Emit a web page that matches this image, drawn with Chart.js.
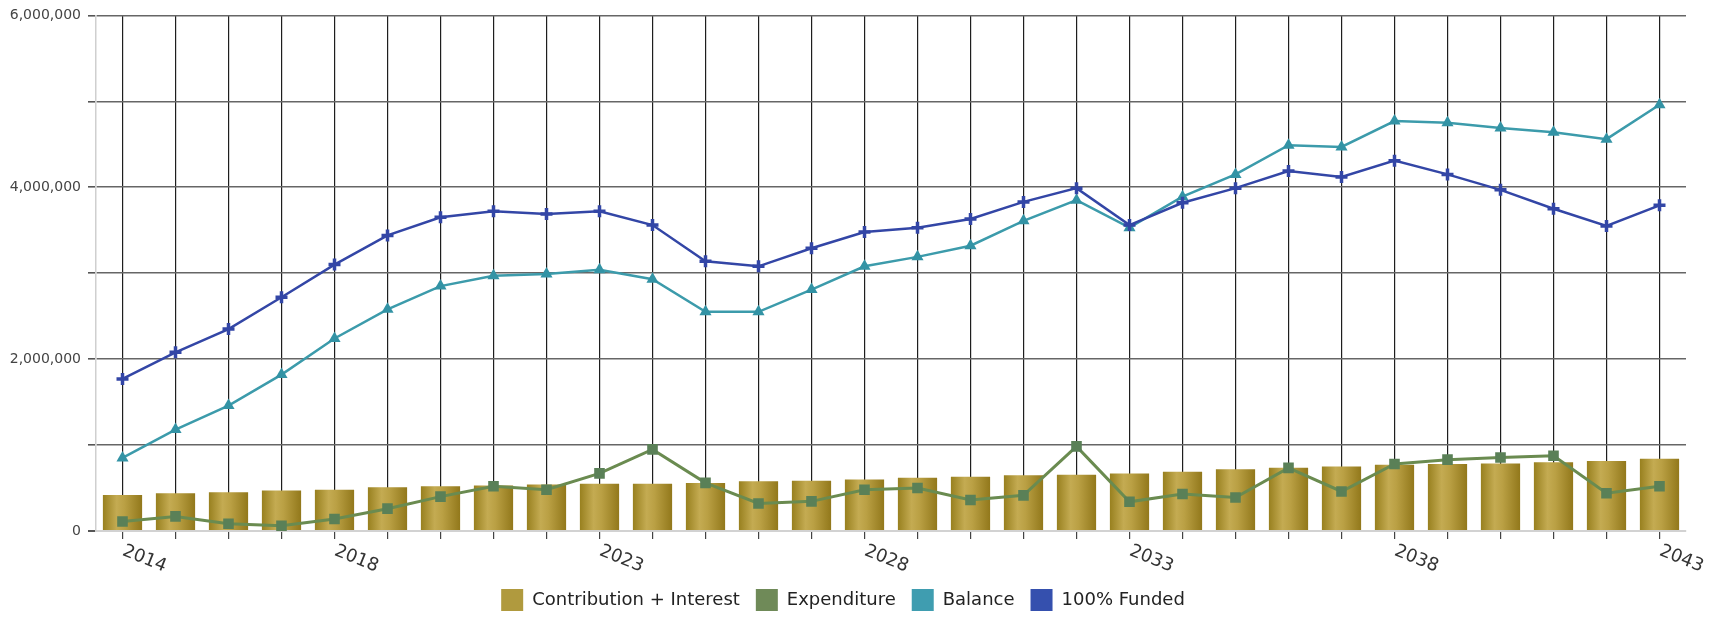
<!DOCTYPE html>
<html>
<head>
<meta charset="utf-8">
<title>Reserve Fund Projection</title>
<script src="https://cdn.jsdelivr.net/npm/chart.js@4"></script>
<style>
  html, body { margin: 0; padding: 0; background: #ffffff; }
  #wrap { width: 1715px; height: 644px; position: relative; }
</style>
</head>
<body>
<div id="wrap"><canvas id="reserveChart"></canvas></div>
<script>
// categories
const years = [2014, 2015, 2016, 2017, 2018, 2019, 2020, 2021, 2022, 2023,
               2024, 2025, 2026, 2027, 2028, 2029, 2030, 2031, 2032, 2033,
               2034, 2035, 2036, 2037, 2038, 2039, 2040, 2041, 2042, 2043];

// series values
const contribution = [420000, 440000, 450000, 470000, 480000, 510000, 520000, 530000, 540000, 550000,
                      550000, 560000, 580000, 585000, 600000, 620000, 630000, 650000, 655000, 670000,
                      690000, 720000, 735000, 750000, 770000, 780000, 785000, 800000, 815000, 840000];
const expenditure = [110000, 170000, 85000, 60000, 140000, 260000, 400000, 520000, 480000, 670000,
                     950000, 560000, 320000, 345000, 480000, 500000, 360000, 415000, 985000, 340000,
                     430000, 390000, 735000, 460000, 780000, 830000, 855000, 875000, 440000, 520000];
const balance = [850000, 1180000, 1460000, 1820000, 2240000, 2580000, 2850000, 2970000, 2990000, 3040000,
                 2930000, 2550000, 2550000, 2810000, 3080000, 3190000, 3320000, 3610000, 3850000, 3530000,
                 3890000, 4150000, 4490000, 4470000, 4770000, 4750000, 4690000, 4640000, 4560000, 4960000];
const funded = [1770000, 2080000, 2350000, 2720000, 3100000, 3440000, 3650000, 3720000, 3690000, 3720000,
                3560000, 3140000, 3080000, 3290000, 3480000, 3530000, 3630000, 3830000, 3990000, 3560000,
                3820000, 3990000, 4190000, 4120000, 4310000, 4150000, 3970000, 3750000, 3550000, 3790000];

// tick labels
const xTickYears = [2014, 2018, 2023, 2028, 2033, 2038, 2043];
const yTickLabels = [0, 2000000, 4000000, 6000000];

const BAR_PCT = 0.74;
const legendColors = ['#b09a3e', '#6f8a58', '#3f9db0', '#3550ae'];

// golden bars, darker at the edges
function barFill(c) {
  const xs = c.chart.scales && c.chart.scales.x;
  if (c.type !== 'data' || !xs) return legendColors[0];
  const cx = xs.getPixelForValue(c.dataIndex);
  const half = xs.width / years.length * BAR_PCT / 2;
  if (!isFinite(cx) || !isFinite(half) || half <= 0) return legendColors[0];
  const g = c.chart.ctx.createLinearGradient(cx - half, 0, cx + half, 0);
  g.addColorStop(0, '#98801f');
  g.addColorStop(0.35, '#c4ab52');
  g.addColorStop(0.55, '#baa044');
  g.addColorStop(1, '#92781b');
  return g;
}

// rotated year labels below the axis
const yearLabels = {
  id: 'yearLabels',
  afterDraw(chart) {
    const xs = chart.scales.x;
    const ctx = chart.ctx;
    ctx.save();
    ctx.font = '18px "DejaVu Sans"';
    ctx.fillStyle = '#333333';
    ctx.textAlign = 'left';
    ctx.textBaseline = 'top';
    years.forEach((yr, i) => {
      if (!xTickYears.includes(yr)) return;
      const x = xs.getPixelForValue(i);
      ctx.save();
      ctx.translate(x + 4, xs.top + 11);
      ctx.rotate(22 * Math.PI / 180);
      ctx.fillText(String(yr), 0, 0);
      ctx.restore();
    });
    ctx.restore();
  }
};

const ctx = document.getElementById('reserveChart').getContext('2d');
const reserveChart = new Chart(ctx, {
  type: 'bar',
  data: {
    labels: years.map(String),
    datasets: [
      {
        label: 'Contribution + Interest',
        data: contribution,
        backgroundColor: barFill,
        barPercentage: BAR_PCT,
        categoryPercentage: 1,
        order: 4
      },
      {
        type: 'line',
        label: 'Expenditure',
        data: expenditure,
        borderColor: '#6a8b50',
        backgroundColor: '#5a8057',
        borderWidth: 3,
        pointStyle: 'rect',
        pointRadius: 7.5,
        pointBorderWidth: 0,
        tension: 0,
        order: 3
      },
      {
        type: 'line',
        label: 'Balance',
        data: balance,
        borderColor: '#3c9bab',
        backgroundColor: '#3393a5',
        borderWidth: 2.5,
        pointStyle: 'triangle',
        pointRadius: 7,
        pointBorderWidth: 0,
        tension: 0,
        order: 2
      },
      {
        type: 'line',
        label: '100% Funded',
        data: funded,
        borderColor: '#3346a6',
        backgroundColor: '#2f45a8',
        borderWidth: 2.5,
        pointStyle: 'cross',
        pointRadius: 6,
        pointBorderWidth: 3.5,
        tension: 0,
        order: 1
      }
    ]
  },
  options: {
    responsive: true,
    maintainAspectRatio: false,
    animation: false,
    layout: { padding: { top: 15, right: 29, bottom: 23, left: 0 } },
    scales: {
      x: {
        offset: true,
        grid: {
          offset: false,
          color: '#1e1e1e',
          lineWidth: 1.2,
          drawTicks: true,
          tickLength: 8,
          tickColor: '#444444'
        },
        border: { display: true, color: '#d2d2d2', width: 2 },
        ticks: { display: false },
        afterFit: (s) => { s.height = 42; }
      },
      y: {
        min: 0,
        max: 6000000,
        grid: {
          color: (c) => (c.tick && c.tick.value === 0 ? '#d2d2d2' : '#666666'),
          lineWidth: (c) => (c.tick && c.tick.value === 0 ? 2 : 1.6),
          tickLength: 8,
          tickColor: '#555555'
        },
        border: { display: true, color: '#cfcfcf', width: 1.5 },
        ticks: {
          stepSize: 1000000,
          padding: 7,
          color: '#444444',
          font: { family: 'DejaVu Sans', size: 14 },
          callback: (v) => (yTickLabels.includes(v) ? v.toLocaleString('en-US') : '')
        },
        afterFit: (s) => { s.width = 96; }
      }
    },
    plugins: {
      tooltip: { enabled: false },
      legend: {
        position: 'bottom',
        labels: {
          boxWidth: 22,
          boxHeight: 22,
          padding: 16,
          color: '#222222',
          font: { family: 'DejaVu Sans', size: 18 },
          sort: (a, b) => a.datasetIndex - b.datasetIndex,
          generateLabels: (chart) =>
            Chart.defaults.plugins.legend.labels.generateLabels(chart).map((item) => ({
              ...item,
              fillStyle: legendColors[item.datasetIndex],
              strokeStyle: legendColors[item.datasetIndex],
              lineWidth: 0
            }))
        }
      }
    }
  },
  plugins: [yearLabels]
});
</script>
</body>
</html>
